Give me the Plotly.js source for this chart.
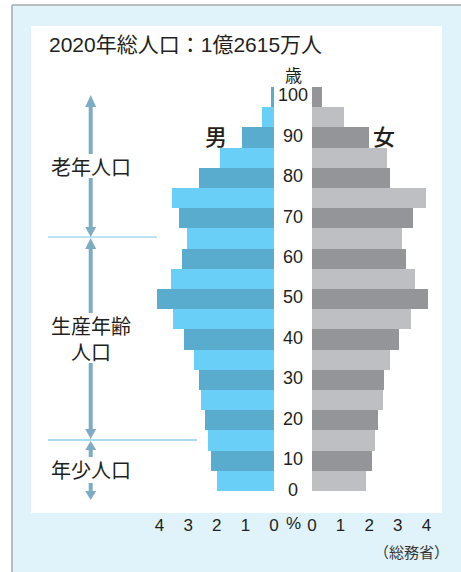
<!DOCTYPE html>
<html>
<head>
<meta charset="utf-8">
<script src="https://cdn.plot.ly/plotly-3.0.1.min.js"></script>
<style>
html,body{margin:0;padding:0;background:#fff;}
#chart{width:461px;height:572px;}
</style>
</head>
<body>
<div id="chart"></div>
<script>
// ---- data ----
const ageGroups = ["0-4","5-9","10-14","15-19","20-24","25-29","30-34","35-39","40-44","45-49",
                   "50-54","55-59","60-64","65-69","70-74","75-79","80-84","85-89","90-94","95-99"];
const ageCenters = [2.5,7.5,12.5,17.5,22.5,27.5,32.5,37.5,42.5,47.5,52.5,57.5,62.5,67.5,72.5,77.5,82.5,87.5,92.5,97.5];
const malePct   = [1.99,2.20,2.31,2.41,2.55,2.62,2.80,3.15,3.53,4.09,3.60,3.22,3.04,3.32,3.57,2.62,1.89,1.12,0.41,0.10];
const femalePct = [1.89,2.10,2.20,2.31,2.48,2.52,2.73,3.04,3.46,4.06,3.60,3.29,3.15,3.53,3.99,2.73,2.62,1.99,1.12,0.35];
const ageTickVals = [0,10,20,30,40,50,60,70,80,90,100];
const pctTickVals = [0,1,2,3,4];
const pctTickText = ["0","1","2","3","4"];
const titleText = "2020年総人口：1億2615万人";
const sourceText = "（総務省）";
const sectionLabels = ["老年人口","生産年齢<br>人口","年少人口"];

// ---- layout helpers ----
const W = 461, H = 572;
const px = x => x / W;
const py = y => 1 - y / H;
const numFont = "Liberation Sans, Arial, Noto Sans CJK JP, sans-serif";
const cjkFont = "Noto Sans CJK JP, sans-serif";
const txt = "#231f20";

const maleColors = ageCenters.map((_, i) => i % 2 === 0 ? "#6acff6" : "#5aaccf");
const femaleColors = ageCenters.map((_, i) => i % 2 === 0 ? "#bebfc3" : "#939598");

const pxPerPct = 28.6;
const R = 4.5;
const maleZero = 274, femaleZero = 312;

const traces = [
  {type:"bar", orientation:"h", x:malePct, y:ageCenters, width:5, xaxis:"x", yaxis:"y",
   marker:{color:maleColors, line:{width:0}}, hoverinfo:"skip", text:ageGroups, textposition:"none"},
  {type:"bar", orientation:"h", x:femalePct, y:ageCenters, width:5, xaxis:"x2", yaxis:"y",
   marker:{color:femaleColors, line:{width:0}}, hoverinfo:"skip", text:ageGroups, textposition:"none"}
];

const arrowColor = "#7eacc3";
const ax = 90.7;
function shaft(y0, y1){
  return {type:"line", xref:"paper", yref:"paper", x0:px(ax), x1:px(ax), y0:py(y0), y1:py(y1),
          line:{color:arrowColor, width:4}, layer:"below"};
}
function head(tipY, baseY){
  const hw = 5.5;
  return {type:"path", xref:"paper", yref:"paper",
          path:`M ${px(ax)} ${py(tipY)} L ${px(ax-hw)} ${py(baseY)} L ${px(ax+hw)} ${py(baseY)} Z`,
          fillcolor:arrowColor, line:{width:0}, layer:"below"};
}

const shapes = [
  {type:"rect", xref:"paper", yref:"paper", x0:px(12), x1:px(462), y0:py(573), y1:py(5),
   fillcolor:"#e0f3fa", line:{width:0}, layer:"below"},
  {type:"line", xref:"paper", yref:"paper", x0:px(12), x1:px(12), y0:py(573), y1:py(5),
   line:{color:"#a8a8a8", width:1.5}, layer:"below"},
  {type:"line", xref:"paper", yref:"paper", x0:px(12), x1:px(462), y0:py(5), y1:py(5),
   line:{color:"#a8a8a8", width:1.5}, layer:"below"},
  {type:"rect", xref:"paper", yref:"paper", x0:px(31), x1:px(442), y0:py(513), y1:py(26),
   fillcolor:"#ffffff", line:{width:0}, layer:"below"},
  {type:"line", xref:"paper", yref:"paper", x0:px(48), x1:px(157), y0:py(237), y1:py(237),
   line:{color:"#7cc8e7", width:1}, layer:"below"},
  {type:"line", xref:"paper", yref:"paper", x0:px(48), x1:px(197), y0:py(440), y1:py(440),
   line:{color:"#a8ddf2", width:2}, layer:"below"},
  head(95,107), shaft(106,154), shaft(178,228), head(237,227),
  head(238,249), shaft(248,313), shaft(363,430), head(439,429),
  head(441,450), shaft(449,457), shaft(483,492), head(500,491)
];

const annotations = [];
ageTickVals.forEach(v => {
  annotations.push({xref:"paper", yref:"y", x:px(293), y: v === 0 ? 0.3 : v - 2.1,
    text:String(v), showarrow:false, xanchor:"center", yanchor:"middle",
    font:{family:numFont, size:18, color:txt}});
});
annotations.push({xref:"paper", yref:"paper", x:px(293), y:py(74), text:"歳", showarrow:false,
  xanchor:"center", yanchor:"middle", font:{family:cjkFont, size:17, color:txt}});
annotations.push({xref:"paper", yref:"paper", x:px(47), y:py(45), text:titleText, showarrow:false,
  xanchor:"left", yanchor:"middle", font:{family:numFont, size:21, color:txt}});
annotations.push({xref:"paper", yref:"paper", x:px(215.5), y:py(135), text:"男", showarrow:false,
  xanchor:"center", yanchor:"middle", font:{family:cjkFont, size:22, color:txt, weight:500}});
annotations.push({xref:"paper", yref:"paper", x:px(384), y:py(135), text:"女", showarrow:false,
  xanchor:"center", yanchor:"middle", font:{family:cjkFont, size:22, color:txt, weight:500}});
const secY = [166, 338, 469];
sectionLabels.forEach((s, i) => {
  annotations.push({xref:"paper", yref:"paper", x:px(90.5), y:py(secY[i]), text:s, showarrow:false,
    xanchor:"center", yanchor:"middle", align:"center",
    font:{family:cjkFont, size:20, color:txt}});
});
annotations.push({xref:"paper", yref:"paper", x:px(293), y:py(523), text:"%", showarrow:false,
  xanchor:"center", yanchor:"middle", font:{family:numFont, size:17, color:txt}});
annotations.push({xref:"paper", yref:"paper", x:px(451), y:py(551), text:sourceText, showarrow:false,
  xanchor:"right", yanchor:"middle", font:{family:cjkFont, size:15, color:"#333"}});

const axCommon = {showgrid:false, zeroline:false, showline:false, fixedrange:true,
  tickvals:pctTickVals, ticktext:pctTickText, ticks:"outside", ticklen:19, tickcolor:"rgba(0,0,0,0)",
  tickfont:{family:numFont, size:17, color:txt}};

const layout = {
  width:W, height:H,
  margin:{l:0, r:0, t:0, b:0, pad:0},
  paper_bgcolor:"#ffffff", plot_bgcolor:"rgba(0,0,0,0)",
  showlegend:false, bargap:0,
  xaxis: Object.assign({}, axCommon, {range:[R,0], anchor:"y",
    domain:[px(maleZero - pxPerPct*R), px(maleZero)]}),
  xaxis2: Object.assign({}, axCommon, {range:[0,R], anchor:"y",
    domain:[px(femaleZero), px(femaleZero + pxPerPct*R)]}),
  yaxis: {range:[0,100], domain:[py(491), py(87)], showgrid:false, zeroline:false, showline:false,
    showticklabels:false, ticks:"", fixedrange:true},
  shapes: shapes,
  annotations: annotations
};

Plotly.newPlot("chart", traces, layout, {displayModeBar:false, staticPlot:true});
</script>
</body>
</html>
